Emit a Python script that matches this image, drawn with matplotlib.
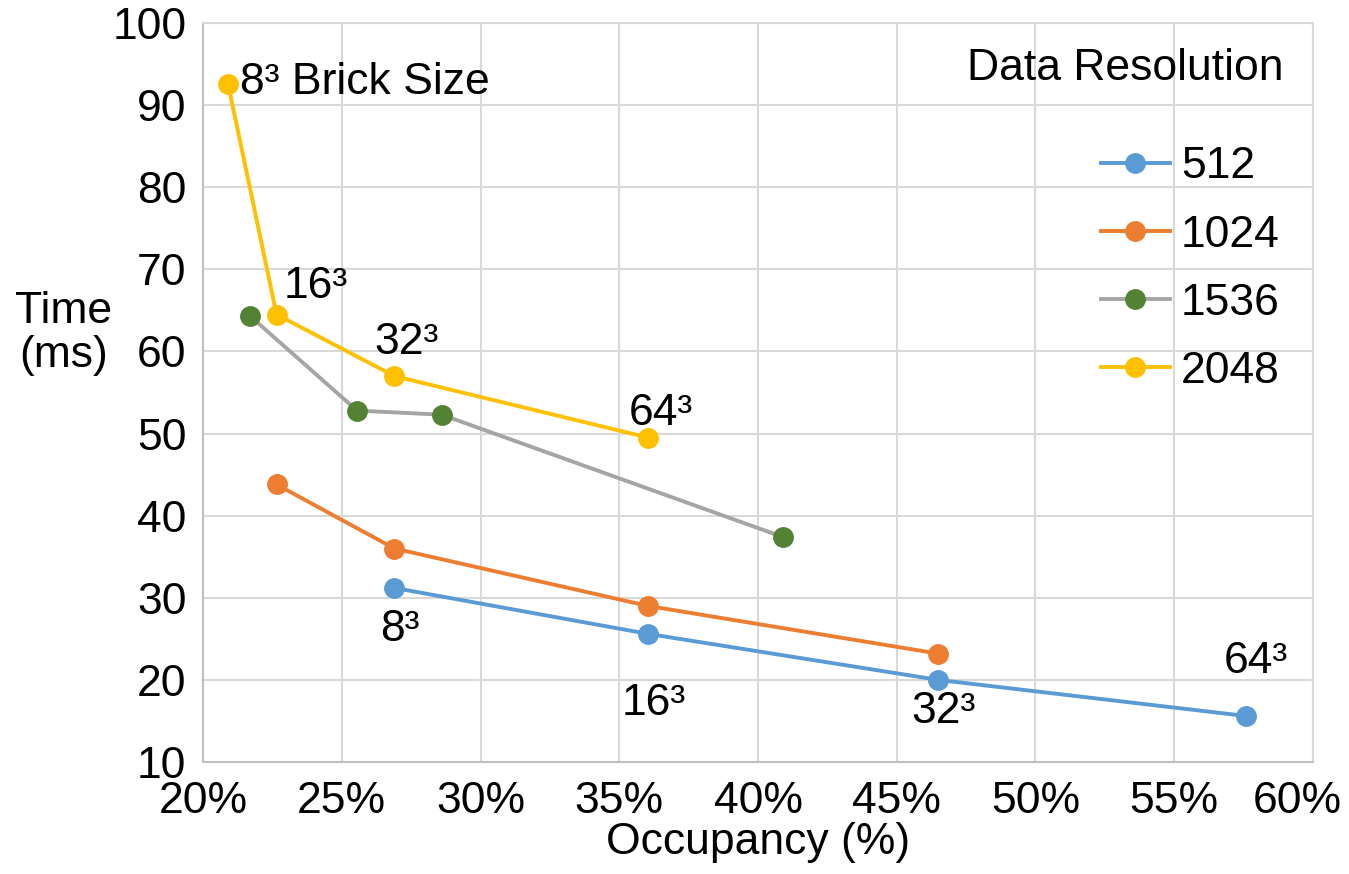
import numpy as np
import matplotlib
matplotlib.use("Agg")
import matplotlib.pyplot as plt
from matplotlib.ticker import FuncFormatter
from matplotlib.transforms import ScaledTranslation

plt.rcParams['font.family'] = ['Liberation Sans', 'DejaVu Sans']

# occupancy (%) and time (ms) per data resolution
occ_512 = [26.9, 36.05, 46.5, 57.6]
time_512 = [31.2, 25.6, 20.0, 15.6]
occ_1024 = [22.65, 26.9, 36.05, 46.5]
time_1024 = [43.8, 36.0, 29.0, 23.2]
occ_1536 = [21.7, 25.55, 28.6, 40.9]
time_1536 = [64.3, 52.8, 52.3, 37.4]
occ_2048 = [20.9, 22.65, 26.9, 36.05]
time_2048 = [92.6, 64.5, 57.0, 49.5]

brick_2048 = ["8³ Brick Size", "16³", "32³", "64³"]
brick_512 = ["8³", "16³", "32³", "64³"]

series = [
    ("512", occ_512, time_512, '#5B9BD5', '#5B9BD5'),
    ("1024", occ_1024, time_1024, '#ED7D31', '#ED7D31'),
    ("1536", occ_1536, time_1536, '#A5A5A5', '#548235'),
    ("2048", occ_2048, time_2048, '#FFC000', '#FFC000'),
]

fig = plt.figure(figsize=(13.49, 8.74), dpi=100)
ax = fig.add_axes([0.1505, 0.1281, 0.8228, 0.8456])

for name, xs, ys, lc, mc in series:
    ax.plot(xs, ys, color=lc, lw=2.8, marker='o', markersize=14,
            markerfacecolor=mc, markeredgecolor=mc, label=name, zorder=3)

fs = 32
# labels for the 2048 series
ax.text(occ_2048[0] + 0.45, time_2048[0] + 0.2, brick_2048[0], fontsize=fs, va='center', ha='left')
ax.text(occ_2048[1] + 0.25, time_2048[1] + 0.9, brick_2048[1], fontsize=fs, va='bottom', ha='left')
ax.text(occ_2048[2] + 0.45, time_2048[2] + 1.6, brick_2048[2], fontsize=fs, va='bottom', ha='center')
ax.text(occ_2048[3] + 0.45, time_2048[3] + 0.4, brick_2048[3], fontsize=fs, va='bottom', ha='center')
# labels for the 512 series
ax.text(occ_512[0] + 0.2, time_512[0] - 2.6, brick_512[0], fontsize=fs, va='top', ha='center')
ax.text(occ_512[1] + 0.2, time_512[1] - 6.0, brick_512[1], fontsize=fs, va='top', ha='center')
ax.text(occ_512[2] + 0.2, time_512[2] - 1.4, brick_512[2], fontsize=fs, va='top', ha='center')
ax.text(occ_512[3] + 0.35, time_512[3] + 4.2, brick_512[3], fontsize=fs, va='bottom', ha='center')

ax.set_xlim(20, 60)
ax.set_ylim(10, 100)
ax.set_xticks(np.arange(20, 61, 5))
ax.set_yticks(np.arange(10, 101, 10))
ax.xaxis.set_major_formatter(FuncFormatter(lambda v, p: f"{int(v)}%"))
ax.tick_params(length=0, labelsize=fs)
ax.tick_params(axis='x', pad=14)
ax.tick_params(axis='y', pad=12)
ax.grid(True, color='#D9D9D9', lw=1.5)
ax.set_axisbelow(True)
for s in ax.spines.values():
    s.set_color('#D9D9D9')
    s.set_linewidth(1.5)
ax.spines['left'].set_color('#BFBFBF')
ax.spines['bottom'].set_color('#BFBFBF')

# last x tick label sits a bit left so it fits in the figure
fig.canvas.draw()
last = ax.get_xticklabels()[-1]
last.set_transform(last.get_transform() + ScaledTranslation(-0.16, 0, fig.dpi_scale_trans))

ax.set_xlabel("Occupancy (%)", fontsize=fs, labelpad=0)
fig.text(0.047, 0.618, "Time\n(ms)", fontsize=fs, ha='center', va='center', linespacing=1.1)

ax.text(0.973, 0.923, "Data Resolution", transform=ax.transAxes, fontsize=fs,
        ha='right', va='baseline')
ax.legend(loc='upper left', bbox_to_anchor=(0.793, 0.857), frameon=False,
          fontsize=fs, handlelength=1.55, handletextpad=0.25, labelspacing=0.61,
          borderaxespad=0)

fig.savefig("out.png", dpi=100)
